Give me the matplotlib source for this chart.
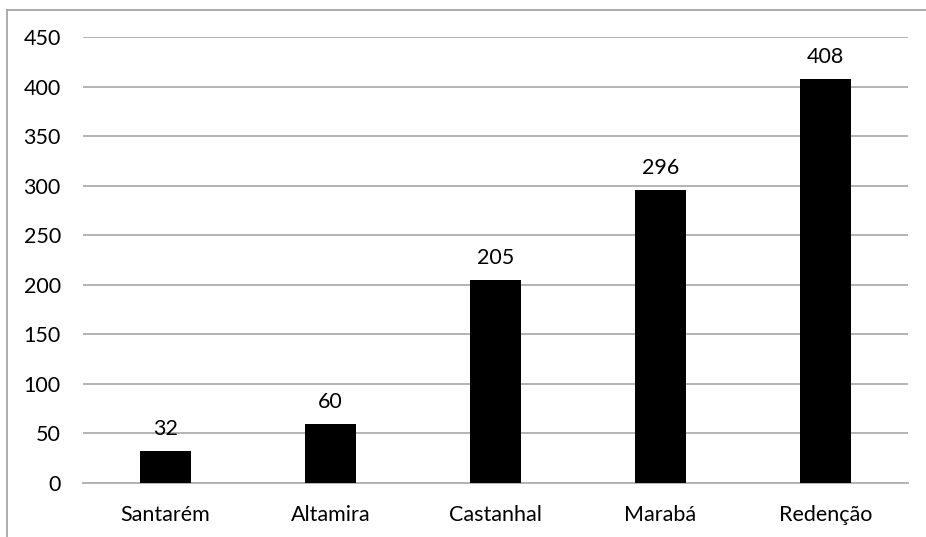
import matplotlib.pyplot as plt
from matplotlib.lines import Line2D

cities = ["Santarém", "Altamira", "Castanhal", "Marabá", "Redenção"]
counts = [32, 60, 205, 296, 408]
y_ticks = [0, 50, 100, 150, 200, 250, 300, 350, 400, 450]

plt.rcParams["font.family"] = ["Lato", "DejaVu Sans"]

fig = plt.figure(figsize=(9.26, 5.37), dpi=100)
ax = fig.add_axes([83 / 926, 1 - 483 / 537, 825 / 926, 446 / 537])

x = range(len(cities))
bars = ax.bar(x, counts, width=0.315, color="black", zorder=3)
for rect, val in zip(bars, counts):
    ax.text(rect.get_x() + rect.get_width() / 2, val + 12, str(val),
            ha="center", va="bottom", fontsize=15.5, color="black")

ax.set_xlim(-0.5, len(cities) - 0.5)
ax.set_ylim(0, 450)
ax.set_yticks(y_ticks)
ax.set_xticks(list(x))
ax.set_xticklabels(cities)
ax.tick_params(axis="both", length=0, labelsize=15.5, colors="black")
ax.tick_params(axis="y", pad=16)
ax.tick_params(axis="x", pad=16)
ax.yaxis.grid(True, color="#b3b3b3", linewidth=1.4, zorder=0)
for side in ["top", "right", "left"]:
    ax.spines[side].set_visible(False)
ax.spines["bottom"].set_color("#b3b3b3")
ax.spines["bottom"].set_linewidth(1.4)

# outer chart frame (top and left edges only)
fig.add_artist(Line2D([7 / 926, 7 / 926], [0, 1 - 9.5 / 537],
                      transform=fig.transFigure, color="#a6a6a6", lw=1.3))
fig.add_artist(Line2D([7 / 926, 1], [1 - 9.5 / 537, 1 - 9.5 / 537],
                      transform=fig.transFigure, color="#a6a6a6", lw=1.3))

fig.savefig("out.png", dpi=100)
